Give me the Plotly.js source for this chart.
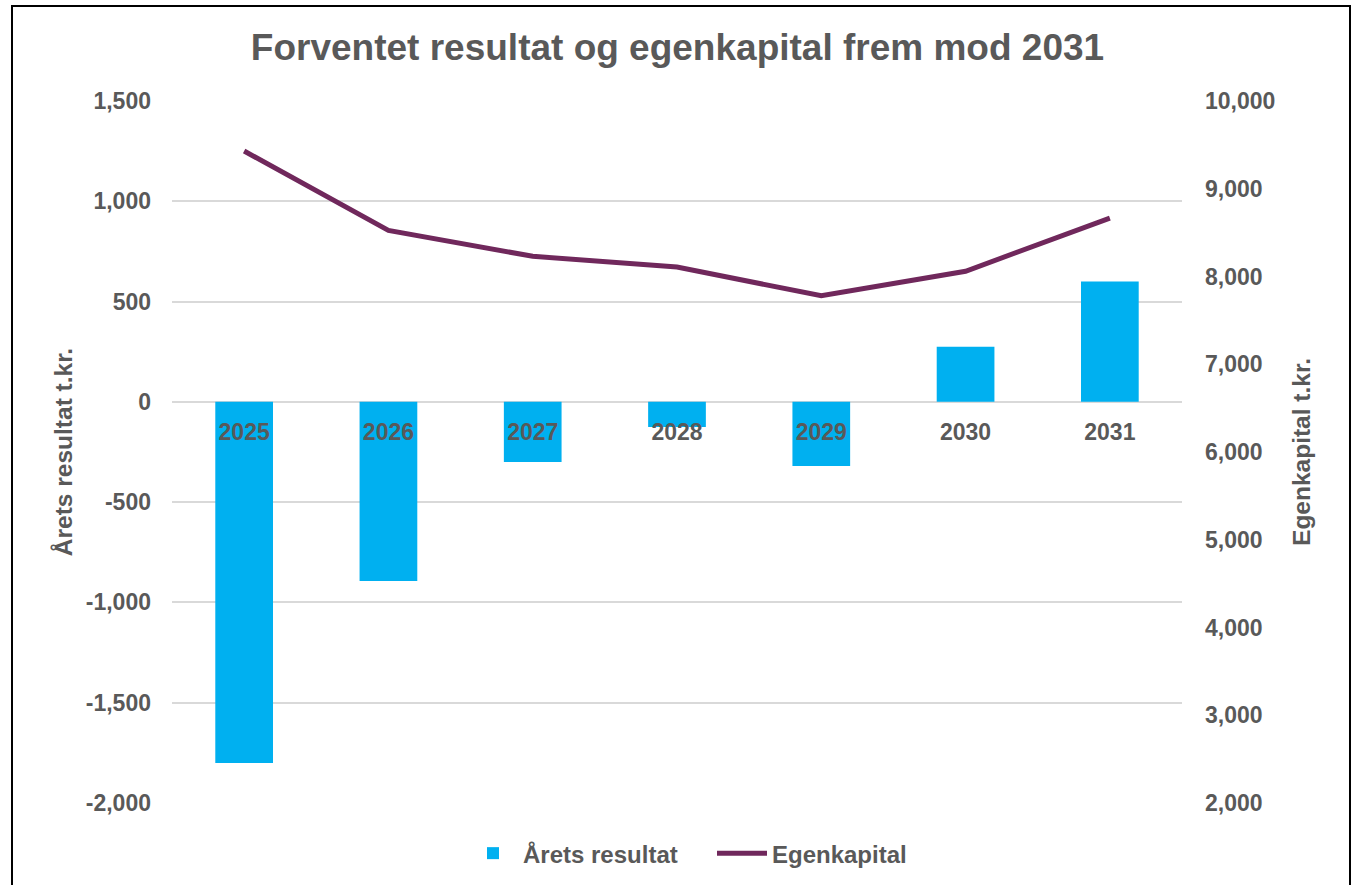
<!DOCTYPE html>
<html>
<head>
<meta charset="utf-8">
<script src="https://cdn.plot.ly/plotly-3.0.1.min.js"></script>
<style>html,body{margin:0;padding:0;background:#fff;}#chart{width:1355px;height:885px;}</style>
</head>
<body>
<div id="chart"></div>
<script>
const years = ['2025', '2026', '2027', '2028', '2029', '2030', '2031'];
const aretsResultat = [-1800, -893, -300, -125, -320, 275, 600];
const egenkapital = [9430, 8525, 8230, 8108, 7780, 8060, 8665];
const leftTicks = [-2000, -1500, -1000, -500, 0, 500, 1000, 1500];
const leftTickText = ['-2,000', '-1,500', '-1,000', '-500', '0', '500', '1,000', '1,500'];
const rightTicks = [2000, 3000, 4000, 5000, 6000, 7000, 8000, 9000, 10000];
const rightTickText = ['2,000', '3,000', '4,000', '5,000', '6,000', '7,000', '8,000', '9,000', '10,000'];

const txt = '#595959';
const fam = 'Liberation Sans, Arial, sans-serif';
const fnt = (s) => ({family: fam, size: s, color: txt, weight: 'bold'});

const traces = [
  {type: 'bar', name: 'Årets resultat', x: years, y: aretsResultat,
   marker: {color: '#00B0F0'}, yaxis: 'y', hoverinfo: 'x+y'},
  {type: 'scatter', mode: 'lines', name: 'Egenkapital', x: years, y: egenkapital,
   line: {color: '#70285C', width: 5}, yaxis: 'y2'}
];

const layout = {
  width: 1355, height: 885,
  margin: {l: 172, r: 173, t: 101, b: 82, autoexpand: false},
  paper_bgcolor: '#fff', plot_bgcolor: '#fff',
  title: {text: 'Forventet resultat og egenkapital frem mod 2031', font: fnt(37),
          x: 0.5, xanchor: 'center', y: 0.947, yanchor: 'middle'},
  bargap: 0.6,
  showlegend: true,
  legend: {orientation: 'h', x: (463 - 172) / 1010, xanchor: 'left', y: -0.072, yanchor: 'middle',
           font: fnt(24), itemwidth: 50, traceorder: 'normal',
           entrywidth: 184, entrywidthmode: 'pixels'},
  xaxis: {type: 'category', anchor: 'free', position: 2000 / 3500,
          showline: false, showgrid: false, zeroline: false,
          ticks: '', ticklabelstandoff: 14, tickfont: fnt(23), layer: 'above traces'},
  yaxis: {range: [-2000, 1500], tickvals: leftTicks, ticktext: leftTickText,
          showgrid: true, gridcolor: '#D9D9D9', gridwidth: 2, zeroline: false,
          showline: false, tickfont: fnt(23), ticks: '', ticklabelstandoff: 20,
          title: {text: 'Årets resultat t.kr.', font: fnt(24.5), standoff: 6}},
  yaxis2: {range: [2000, 10000], tickvals: rightTicks, ticktext: rightTickText,
           overlaying: 'y', side: 'right', showgrid: false, zeroline: false,
           showline: false, tickfont: fnt(23), ticks: '', ticklabelstandoff: 22,
           title: {text: 'Egenkapital t.kr.', font: fnt(24.5), standoff: 18}},
  shapes: [{type: 'rect', xref: 'paper', yref: 'paper',
            x0: (12 - 172) / 1010, x1: (1350 - 172) / 1010,
            y0: (803 - 895) / 702, y1: (803 - 6) / 702,
            line: {color: '#000', width: 2}, fillcolor: 'rgba(0,0,0,0)', layer: 'below'}]
};

Plotly.newPlot('chart', traces, layout, {displayModeBar: false, responsive: false});
</script>
</body>
</html>
